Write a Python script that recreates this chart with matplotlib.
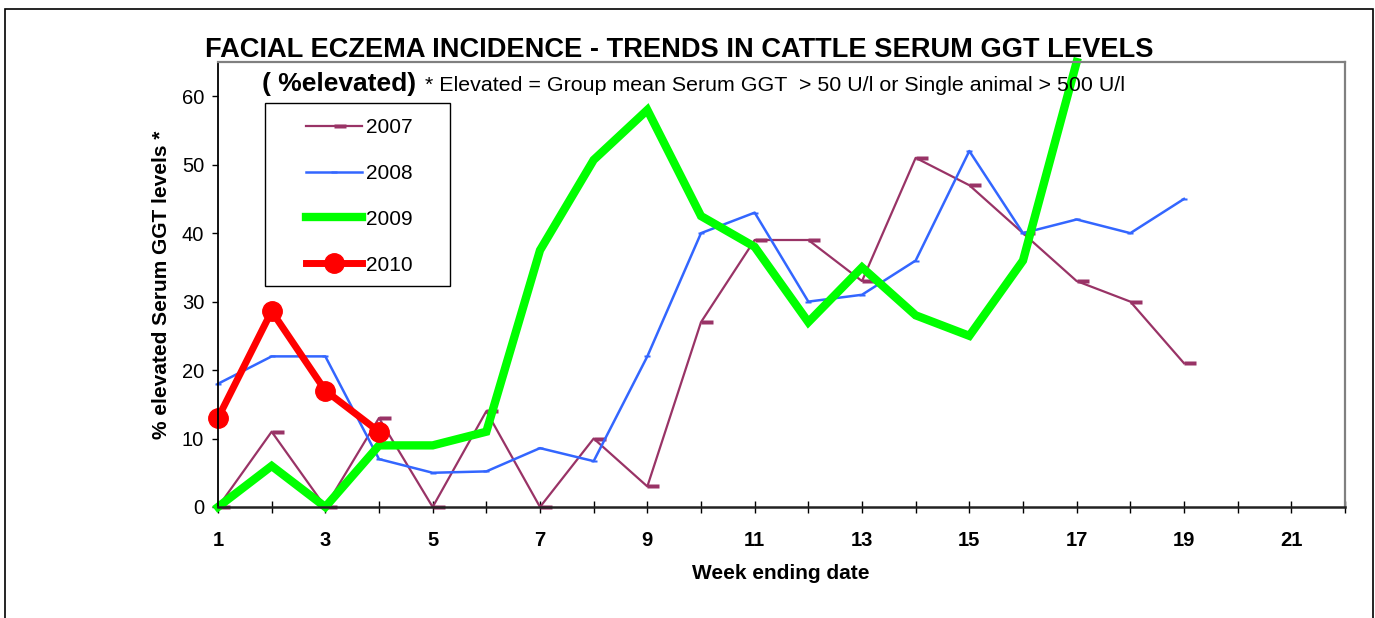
import matplotlib
matplotlib.use("Agg")
import matplotlib.pyplot as plt
from matplotlib.patches import Rectangle

plt.rcParams['font.family'] = ['Liberation Sans', 'DejaVu Sans']

# week numbers and % elevated per season
weeks_2007 = list(range(1, 20))
vals_2007 = [0, 11, 0, 13, 0, 14, 0, 10, 3, 27, 39, 39, 33, 51, 47, 40, 33, 30, 21]

weeks_2008 = list(range(1, 20))
vals_2008 = [18, 22, 22, 7, 5, 5.2, 8.6, 6.7, 22, 40, 43, 30, 31, 36, 52, 40, 42, 40, 45]

weeks_2009 = list(range(1, 18))
vals_2009 = [0, 6, 0, 9, 9, 11, 37.5, 50.7, 58, 42.5, 38, 27, 35, 28, 25, 36, 65]

weeks_2010 = [1, 2, 3, 4]
vals_2010 = [13, 28.6, 17, 11]

x_ticks = list(range(1, 23))
x_ticklabels = [str(t) if t % 2 == 1 else '' for t in x_ticks]
y_ticks = [0, 10, 20, 30, 40, 50, 60]

# rectangle markers like the excel ones
rect_right = [(0, -0.2), (1, -0.2), (1, 0.2), (0, 0.2), (0, -0.2)]
rect_mid = [(-1, -0.45), (1, -0.45), (1, 0.45), (-1, 0.45), (-1, -0.45)]

fig = plt.figure(figsize=(13.75, 6.18), dpi=100)
ax = fig.add_axes([218 / 1375, 1 - 507 / 618, (1345 - 218) / 1375, (507 - 62) / 618])

ax.plot(weeks_2007, vals_2007, color='#993366', lw=1.6, marker=rect_right,
        ms=17, mec='none', mfc='#993366', label='2007', clip_on=False)
ax.plot(weeks_2008, vals_2008, color='#3366FF', lw=1.8, marker=rect_mid,
        ms=4.5, mec='none', mfc='#3366FF', label='2008', clip_on=False)
ax.plot(weeks_2009, vals_2009, color='#00FF00', lw=6, label='2009',
        solid_joinstyle='miter', clip_on=False)
ax.plot(weeks_2010, vals_2010, color='#FF0000', lw=5, marker='o', ms=14,
        label='2010', clip_on=False)

ax.set_xlim(1, 22)
ax.set_ylim(0, 65)
ax.set_xticks(x_ticks)
ax.set_xticklabels(x_ticklabels, fontsize=14.5, fontweight='bold')
ax.set_yticks(y_ticks)
ax.tick_params(axis='y', direction='out', length=4, width=1, pad=6, labelsize=14.5)
ax.tick_params(axis='x', direction='inout', length=9, width=1, pad=12.5)

for side in ['top', 'right']:
    ax.spines[side].set_color('#808080')
    ax.spines[side].set_linewidth(1.6)
ax.spines['left'].set_linewidth(1.3)
ax.spines['bottom'].set_linewidth(1.8)
ax.spines['bottom'].set_color('#222222')

ax.set_xlabel('Week ending date', fontsize=15, fontweight='bold')
ax.xaxis.set_label_coords(0.499, -0.128)
ax.set_ylabel('% elevated Serum GGT levels *', fontsize=15, fontweight='bold')
ax.yaxis.set_label_coords(-0.042, 0.5)

# legend without its own frame, frame drawn separately for the wide side padding
leg = ax.legend(loc='upper left', bbox_to_anchor=(306 / 1375, 1 - 118 / 618),
                bbox_transform=fig.transFigure, borderaxespad=0, borderpad=0,
                fontsize=15, frameon=False, labelspacing=1.29, handlelength=2.7,
                handletextpad=0.2)
fig.patches.append(Rectangle((265 / 1375, 1 - 286 / 618), (450 - 265) / 1375,
                             (286 - 103) / 618, transform=fig.transFigure,
                             fill=False, edgecolor='black', lw=1.0))

fig.text(0.494, 1 - 57 / 618, 'FACIAL ECZEMA INCIDENCE - TRENDS IN CATTLE SERUM GGT LEVELS',
         ha='center', va='baseline', fontsize=19.6, fontweight='bold')
fig.text(262 / 1375, 1 - 91 / 618, '( %elevated)', ha='left', va='baseline',
         fontsize=19, fontweight='bold')
fig.text(425 / 1375, 1 - 91 / 618,
         '* Elevated = Group mean Serum GGT  > 50 U/l or Single animal > 500 U/l',
         ha='left', va='baseline', fontsize=15.4)

# outer chart border (runs off the bottom of the picture)
fig.patches.append(Rectangle((5 / 1375, -0.05), (1373 - 5) / 1375, 1.05 - 9 / 618,
                             transform=fig.transFigure, fill=False,
                             edgecolor='black', lw=1.2, clip_on=False))

fig.savefig('out.png', dpi=100)
